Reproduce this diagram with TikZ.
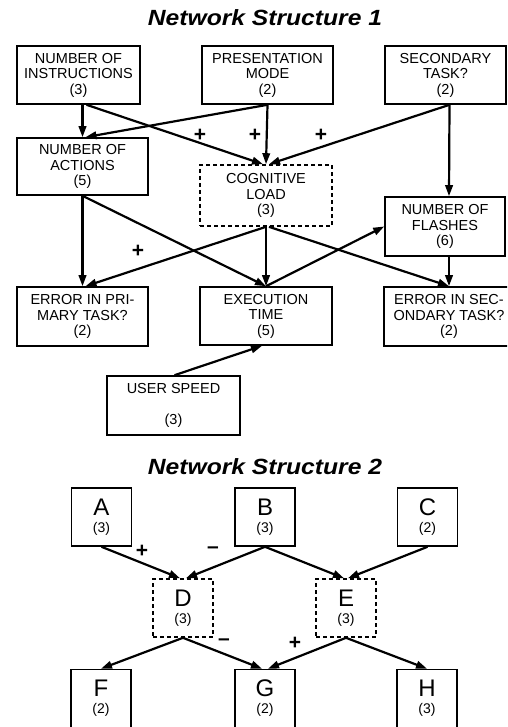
\documentclass[tikz,border=0pt]{standalone}
\usepackage{fontspec}
\usepackage{graphicx}
\setmainfont{Liberation Sans}
\usetikzlibrary{arrows.meta,calc}
\tikzset{
  box/.style={draw, line width=1.6pt, inner sep=0pt, align=center,
    font=\fontsize{14.5}{15.5}\selectfont},
  dbox/.style={box, dash pattern=on 4pt off 3pt},
  lbox/.style={draw, line width=1.6pt, inner sep=0pt, align=center,
    minimum width=60pt, minimum height=58pt},
  ldbox/.style={lbox, dash pattern=on 4pt off 3pt},
  arr/.style={line width=2.2pt, -{Triangle[length=11pt,width=7.5pt]}},
  sign/.style={font=\fontsize{21}{21}\selectfont\bfseries, inner sep=0pt},
  ttl/.style={font=\fontsize{22}{22}\selectfont\bfseries\itshape, inner sep=0pt}
}
\newcommand{\bigltr}[2]{{\fontsize{24}{24}\selectfont #1}\\[5pt]{\fontsize{14}{14}\selectfont (#2)}}
\begin{document}
\begin{tikzpicture}[x=1pt,y=-1pt]
\useasboundingbox (0,0) rectangle (507,727);
\clip (0,0) rectangle (507,727);
% titles
\node[ttl] (t1) at (265,18) {\scalebox{1.12}[1]{Network Structure 1}};
\node[ttl] (t2) at (265,467) {\scalebox{1.12}[1]{Network Structure 2}};
% structure 1 boxes
\node[box, minimum width=123pt, minimum height=58pt] (noi) at (78.5,75) {NUMBER OF\\INSTRUCTIONS\\(3)};
\node[box, minimum width=131pt, minimum height=58pt] (pm) at (267.5,75) {PRESENTATION\\MODE\\(2)};
\node[box, minimum width=121pt, minimum height=58pt] (st) at (445.5,75) {SECONDARY\\TASK?\\(2)};
\node[box, minimum width=131pt, minimum height=57pt] (noa) at (82.5,166.5) {NUMBER OF\\ACTIONS\\(5)};
\node[dbox, minimum width=132pt, minimum height=61pt] (cl) at (266,195.5) {COGNITIVE\\LOAD\\(3)};
\node[box, minimum width=120pt, minimum height=59pt] (nof) at (445,226.5) {NUMBER OF\\FLASHES\\(6)};
\node[box, minimum width=131pt, minimum height=59pt] (ept) at (82.5,316.5) {ERROR IN PRI-\\MARY TASK?\\(2)};
\node[box, minimum width=132pt, minimum height=58pt] (et) at (266,316) {EXECUTION\\TIME\\(5)};
\node[box, minimum width=130pt, minimum height=59pt] (est) at (449,316.5) {ERROR IN SEC-\\ONDARY TASK?\\(2)};
\node[box, minimum width=133pt, minimum height=59pt] (us) at (173.5,405.5) {USER SPEED\\[15pt](3)};
% structure 1 arrows
\draw[arr] (noi.south -| noa.north) -- (noa.north);
\draw[arr] ([xshift=4pt]noi.south -| noa.north) -- ([xshift=-3pt]cl.north);
\draw[arr] (pm.south) -- ([xshift=3pt]noa.north);
\draw[arr] (pm.south) -- (cl.north);
\draw[arr] ([xshift=4pt]st.south) -- ([xshift=3pt]cl.north);
\draw[arr] ([xshift=4pt]st.south) -- ([xshift=4pt]nof.north);
\draw[arr] (noa.south) -- (ept.north);
\draw[arr] (noa.south) -- (et.north);
\draw[arr] (cl.south) -- ([xshift=3pt]ept.north);
\draw[arr] (cl.south) -- (et.north);
\draw[arr] ([xshift=3pt]cl.south) -- (est.north);
\draw[arr] ([xshift=4pt]nof.south) -- (est.north);
\draw[arr] (et.north) -- (nof.west);
\draw[arr] ([xshift=1pt]us.north) -- ([xshift=-4pt]et.south);
\node[sign] (p1) at (200,135) {+};
\node[sign] (p2) at (255,135) {+};
\node[sign] (p3) at (321,135) {+};
\node[sign] (p4) at (138,251) {+};
% structure 2 boxes
\node[lbox] (a) at (101.5,517) {\bigltr{A}{3}};
\node[lbox] (b) at (265,517) {\bigltr{B}{3}};
\node[lbox] (c) at (427.5,517) {\bigltr{C}{2}};
\node[ldbox] (d) at (183,608) {\bigltr{D}{3}};
\node[ldbox] (e) at (346,608) {\bigltr{E}{3}};
\node[lbox] (f) at (101,698.5) {\bigltr{F}{2}};
\node[lbox] (g) at (265,698.5) {\bigltr{G}{2}};
\node[lbox] (h) at (427,698.5) {\bigltr{H}{3}};
% structure 2 arrows
\draw[arr] (a.south) -- ([xshift=-3pt]d.north);
\draw[arr] (b.south) -- ([xshift=3pt]d.north);
\draw[arr] (b.south) -- ([xshift=-2pt]e.north);
\draw[arr] (c.south) -- ([xshift=2pt]e.north);
\draw[arr] (d.south) -- (f.north);
\draw[arr] (d.south) -- ([xshift=-3pt]g.north);
\draw[arr] (e.south) -- ([xshift=3pt]g.north);
\draw[arr] (e.south) -- (h.north);
\node[sign] (s1) at (142,551) {+};
\node[sign] (s2) at (213,550) {–};
\node[sign] (s3) at (224,642) {–};
\node[sign] (s4) at (295,643) {+};
\end{tikzpicture}
\end{document}
